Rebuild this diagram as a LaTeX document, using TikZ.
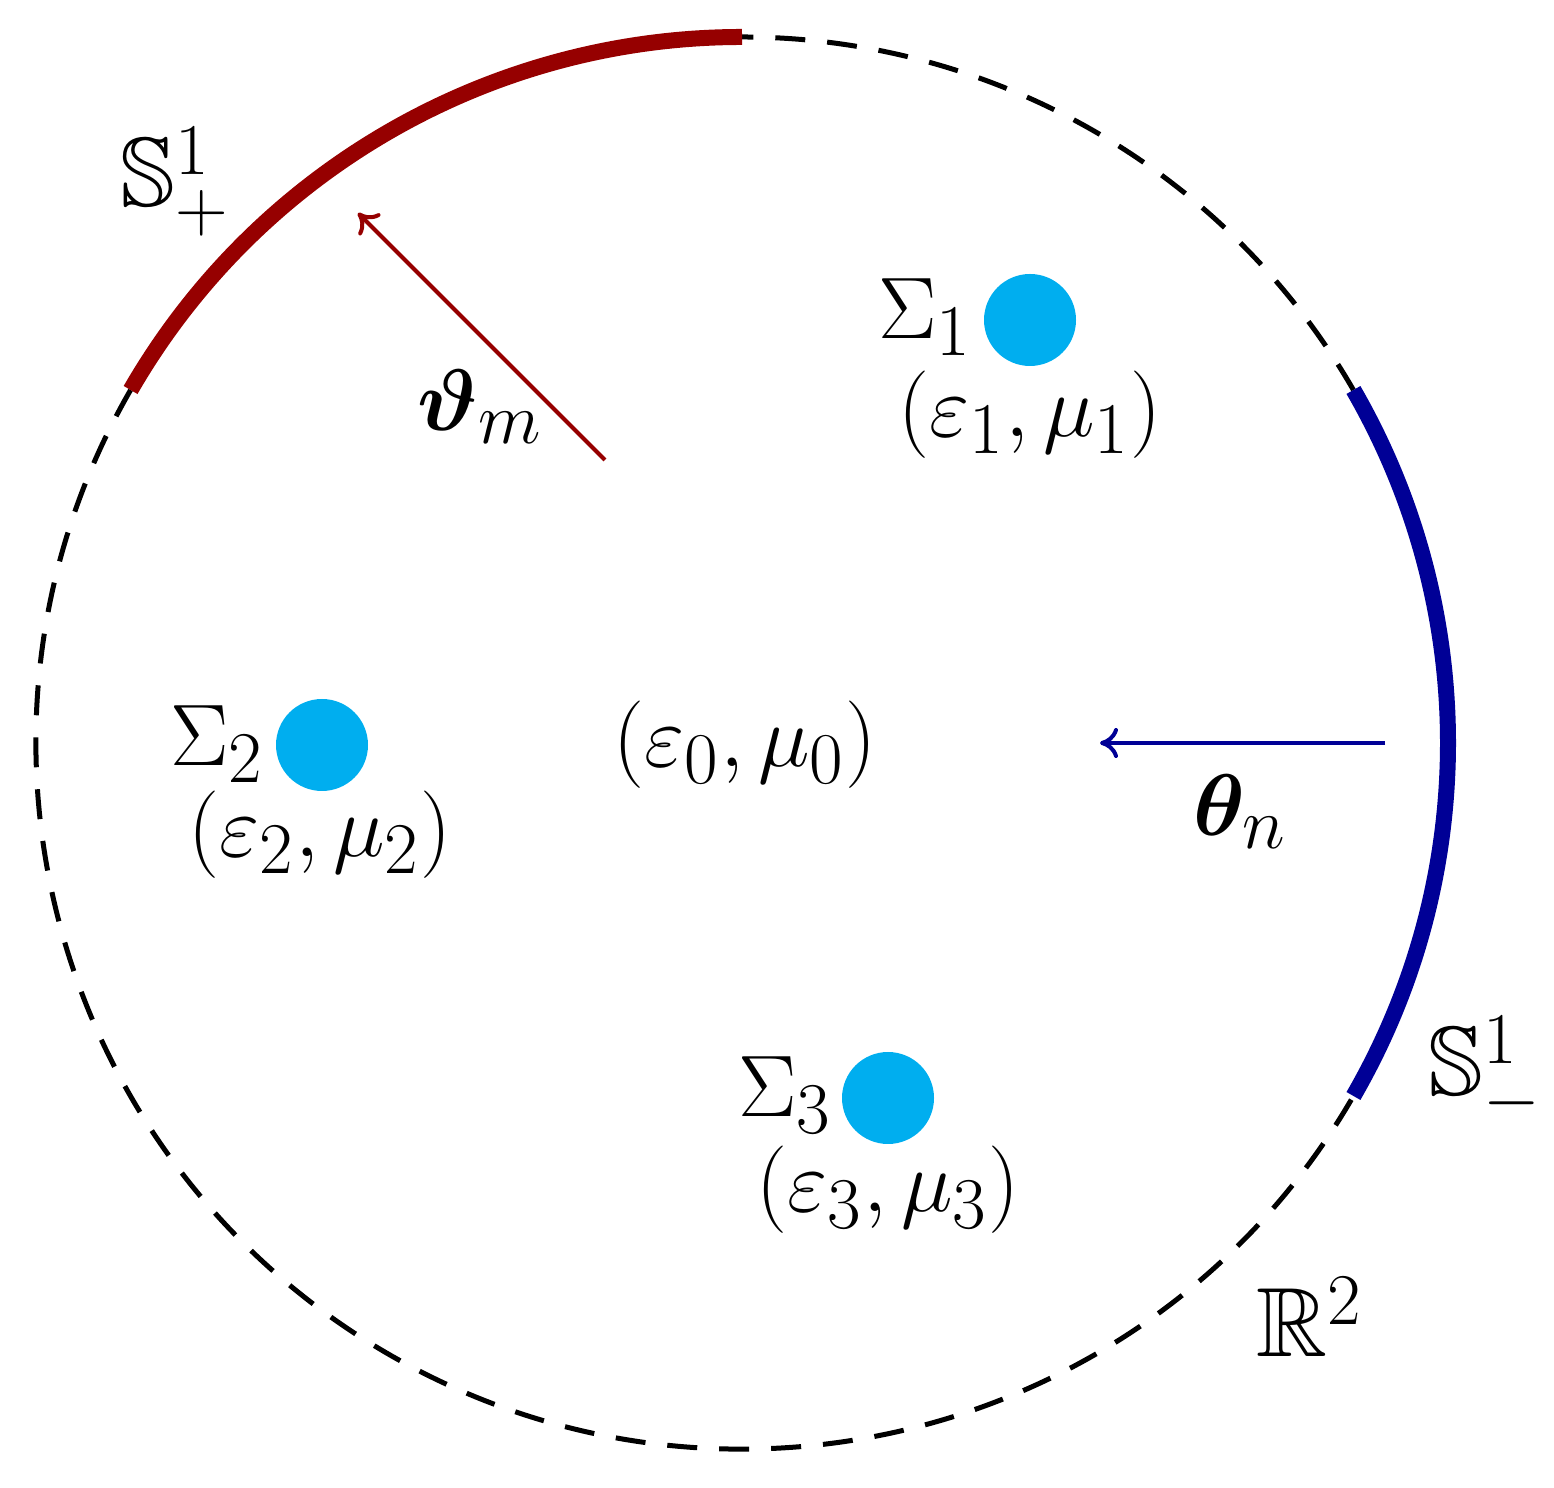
\documentclass[tikz,border=0pt]{standalone}
\usepackage{amsmath,amssymb,bm}
\usetikzlibrary{arrows.meta}
\definecolor{dred}{RGB}{150,0,0}
\definecolor{dblue}{RGB}{0,0,150}
\definecolor{dotc}{RGB}{0,174,239}
\tikzset{lab/.style={font=\fontsize{28}{34}\selectfont, inner sep=0pt},
  dot/.style={circle,fill=dotc,minimum size=0.92cm,inner sep=0pt},
  arr/.style={line width=0.04cm,-{To[length=0.18cm,width=0.3cm]}}}
\begin{document}
\begin{tikzpicture}
\useasboundingbox (0,0) rectangle (15.54,14.87);
\coordinate (O) at (7.42,7.44);
\draw[line width=0.05cm, dash pattern=on 0.3cm off 0.22cm] ([shift={(30:7.06)}]O) arc (30:90:7.06);
\draw[line width=0.05cm, dash pattern=on 0.3cm off 0.22cm] ([shift={(150:7.06)}]O) arc (150:330:7.06);
\draw[dred, line width=0.16cm] ([shift={(90:7.06)}]O) arc (90:150:7.06);
\draw[dblue, line width=0.16cm] ([shift={(-30:7.06)}]O) arc (-30:30:7.06);
\coordinate (ra) at (6.05,10.27);
\coordinate (rb) at (3.58,12.74);
\draw[dred, arr] (ra) -- (rb);
\coordinate (ba) at (13.85,7.44);
\coordinate (bb) at (11.0,7.44);
\draw[dblue, arr] (ba) -- (bb);
\node[dot] (d1) at (10.30,11.67) {};
\node[dot] (d2) at (3.22,7.42) {};
\node[dot] (d3) at (8.88,3.89) {};
\node[lab] (s1) at (9.25,11.70) {$\Sigma_1$};
\node[lab] (p1) at (10.30,10.72) {$(\varepsilon_1,\mu_1)$};
\node[lab] (s2) at (2.17,7.43) {$\Sigma_2$};
\node[lab] (p2) at (3.20,6.52) {$(\varepsilon_2,\mu_2)$};
\node[lab] (s3) at (7.85,3.92) {$\Sigma_3$};
\node[lab] (p3) at (8.88,2.97) {$(\varepsilon_3,\mu_3)$};
\node[lab] (p0) at (7.45,7.42) {$(\varepsilon_0,\mu_0)$};
\node[lab] (tn) at (12.40,6.75) {$\bm{\theta}_n$};
\node[lab] (tm) at (4.80,10.80) {$\bm{\vartheta}_m$};
\node[lab] (sp) at (1.75,13.05) {$\mathbb{S}^1_+$};
\node[lab] (sm) at (14.85,4.15) {$\mathbb{S}^1_-$};
\node[lab] (r2) at (13.10,1.70) {$\mathbb{R}^2$};
\end{tikzpicture}
\end{document}
